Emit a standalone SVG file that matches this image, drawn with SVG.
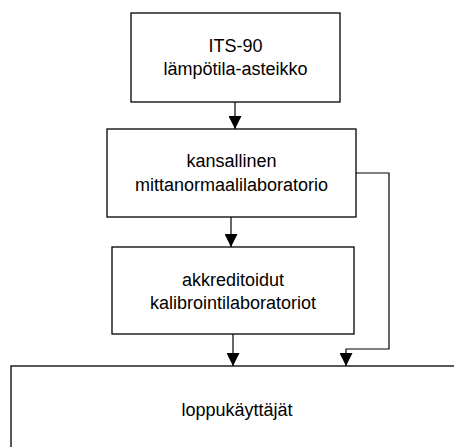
<svg xmlns="http://www.w3.org/2000/svg" width="454" height="447" viewBox="0 0 454 447">
<defs>
<style>
.box{fill:#fff;stroke:#000;stroke-width:1.3}
.t{font-family:"Liberation Sans",Arial,sans-serif;font-size:18px;fill:#000;text-anchor:middle}
.c{fill:none;stroke:#000;stroke-width:1.2}
</style>
<marker id="ah" viewBox="0 0 13 13" refX="13" refY="6.5" markerWidth="13" markerHeight="13" markerUnits="userSpaceOnUse" orient="auto">
<path d="M0,0 L13,6.5 L0,13 Z" fill="#000"/>
</marker>
</defs>
<rect width="454" height="447" fill="#fff"/>
<g id="connectors">
<line class="c" x1="235" y1="102" x2="235" y2="129" marker-end="url(#ah)"/>
<line class="c" x1="231" y1="217" x2="231" y2="247" marker-end="url(#ah)"/>
<line class="c" x1="233" y1="334" x2="233" y2="366" marker-end="url(#ah)"/>
<polyline class="c" points="356,173 389,173 389,349 346,349 346,366" marker-end="url(#ah)"/>
</g>
<g id="its90">
<rect class="box" x="131" y="13" width="209" height="89"/>
<text class="t" x="235.5" y="52">ITS-90</text>
<text class="t" x="235.5" y="75">lämpötila-asteikko</text>
</g>
<g id="kansallinen">
<rect class="box" x="107" y="129" width="249" height="88"/>
<text class="t" x="231.5" y="167">kansallinen</text>
<text class="t" x="231.5" y="191">mittanormaalilaboratorio</text>
</g>
<g id="akkreditoidut">
<rect class="box" x="112" y="247" width="242" height="87"/>
<text class="t" x="233" y="286">akkreditoidut</text>
<text class="t" x="233" y="309">kalibrointilaboratoriot</text>
</g>
<g id="loppukayttajat">
<rect class="box" x="11" y="366" width="460" height="100"/>
<text class="t" x="237" y="416">loppukäyttäjät</text>
</g>
</svg>
